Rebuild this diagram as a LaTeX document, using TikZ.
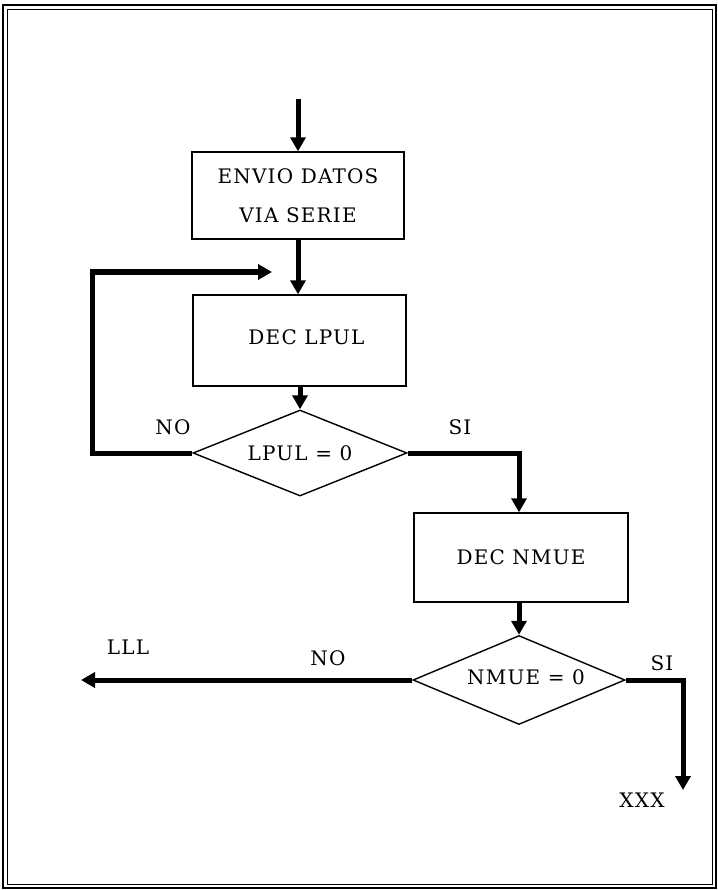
\documentclass[tikz,border=0pt]{standalone}
\usepackage{fontspec}
\setmainfont[LetterSpace=6]{DejaVu Serif}
\usetikzlibrary{arrows.meta,shapes.geometric}
\tikzset{
  stepbox/.style={draw,line width=1.4pt,rectangle,inner sep=0pt,align=center,font=\fontsize{20}{39}\selectfont},
  decision/.style={draw,line width=1.4pt,diamond,inner sep=0pt,aspect=2.45,font=\fontsize{20}{22}\selectfont},
  flow/.style={line width=5pt,-{Triangle[width=15pt,length=14pt]}},
  lbl/.style={font=\fontsize{20}{22}\selectfont,inner sep=0pt},
  frameline/.style={line width=1.2pt}
}
\begin{document}
\begin{tikzpicture}[x=1pt,y=-1pt]
\useasboundingbox (0,0) rectangle (717,890);
\draw[frameline] (3,5) rectangle (716,888);
\draw[line width=0.8pt] (7,9) rectangle (712,884);

\node[stepbox,minimum width=212pt,minimum height=87pt] (b1) at (298,195.5) {ENVIO DATOS\\VIA SERIE};
\node[stepbox,minimum width=213pt,minimum height=91pt] (b2) at (299.5,340.5) {\raisebox{7pt}{\hspace*{14pt}DEC LPUL}};
\node[decision,minimum width=214pt,minimum height=86pt] (d1) at (300,453) {LPUL = 0};
\node[stepbox,minimum width=214pt,minimum height=89pt] (b3) at (521,557.5) {DEC NMUE};
\node[decision,minimum width=212pt,minimum height=89pt] (d2) at (519,680) {\raisebox{6pt}{\hspace*{14pt}NMUE = 0}};

\coordinate (start) at (298,99);
\coordinate (loopc) at (92,272);
\coordinate (loopend) at (272,272);
\coordinate (lllend) at (81,680);
\coordinate (xxxend) at (683,790);

\draw[flow] (start) -- (b1.north);
\draw[flow] (b1.south) -- (b1.south |- b2.north);
\draw[flow] (b2.south -| d1.north) -- (d1.north);
\draw[flow,line join=miter] (d1.west) -- (d1.west -| loopc) -- (loopc) -- (loopend);
\draw[flow,line join=miter] (d1.east) -- (d1.east -| d2.north) -- (b3.north -| d2.north);
\draw[flow] (b3.south -| d2.north) -- (d2.north);
\draw[flow] (d2.west) -- (lllend);
\draw[flow,line join=miter] (d2.east) -- (d2.east -| xxxend) -- (xxxend);

\node[lbl] (no1) at (173,427) {NO};
\node[lbl] (si1) at (460,427) {SI};
\node[lbl] (no2) at (328,658) {NO};
\node[lbl] (lll) at (128,647) {LLL};
\node[lbl] (si2) at (662,663) {SI};
\node[lbl] (xxx) at (642,800) {XXX};
\end{tikzpicture}
\end{document}
